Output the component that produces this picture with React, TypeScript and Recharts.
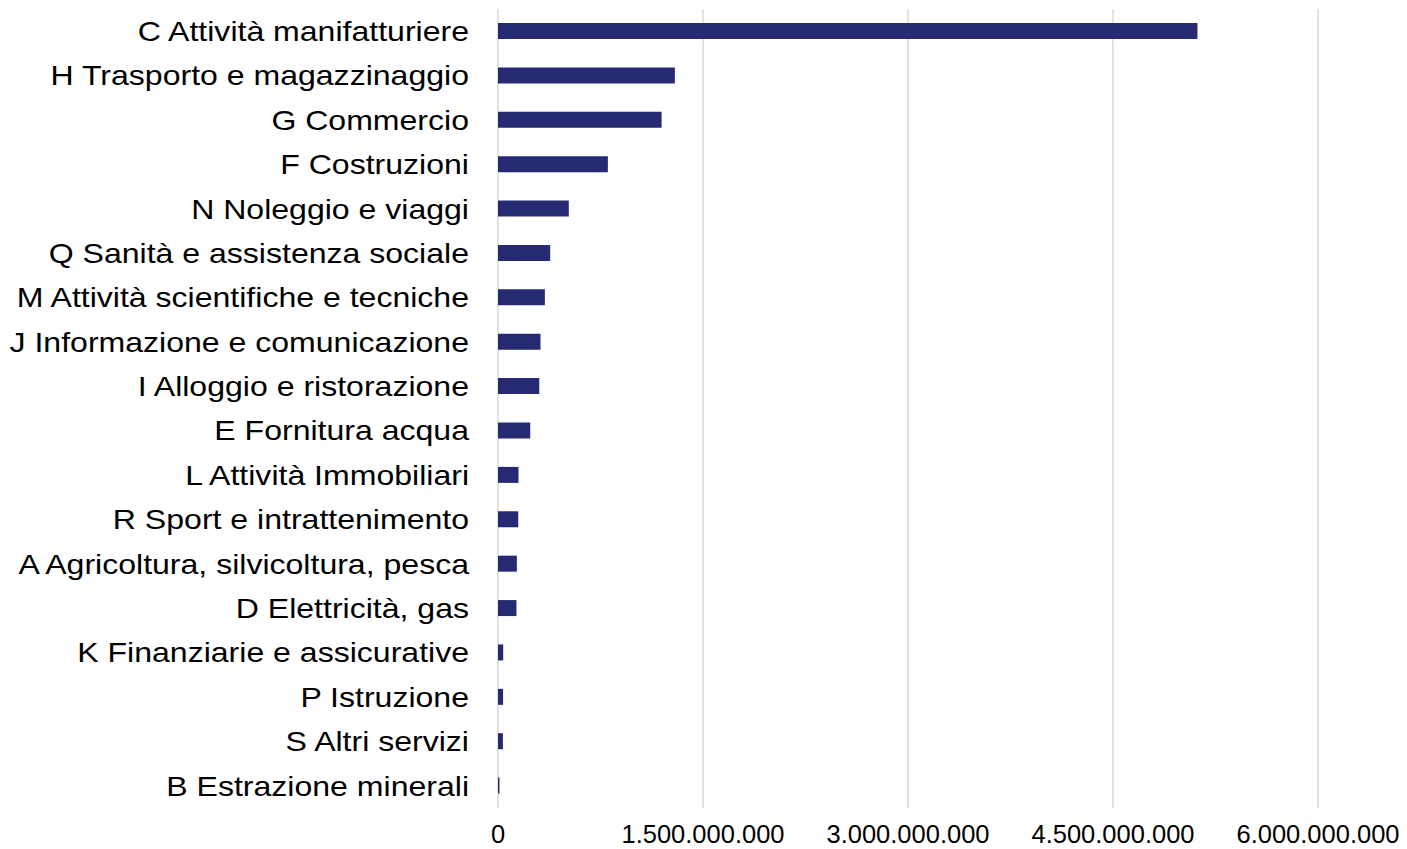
import { BarChart, Bar, XAxis, YAxis, CartesianGrid } from "recharts";

const SECTORS = [
  "C Attività manifatturiere",
  "H Trasporto e magazzinaggio",
  "G Commercio",
  "F Costruzioni",
  "N Noleggio e viaggi",
  "Q Sanità e assistenza sociale",
  "M Attività scientifiche e tecniche",
  "J Informazione e comunicazione",
  "I Alloggio e ristorazione",
  "E Fornitura acqua",
  "L Attività Immobiliari",
  "R Sport e intrattenimento",
  "A Agricoltura, silvicoltura, pesca",
  "D Elettricità, gas",
  "K Finanziarie e assicurative",
  "P Istruzione",
  "S Altri servizi",
  "B Estrazione minerali",
];

const VALUES = [
  5118000000, 1294000000, 1197000000, 804000000, 518000000, 382000000,
  343000000, 311000000, 302000000, 236000000, 150000000, 148000000,
  138000000, 135000000, 38000000, 37000000, 36000000, 11000000,
];

const X_TICKS = [0, 1500000000, 3000000000, 4500000000, 6000000000];

const data = SECTORS.map((name, i) => ({ name, value: VALUES[i] }));

const fmt = (v: number) => String(v).replace(/\B(?=(\d{3})+(?!\d))/g, ".");

// eslint-disable-next-line @typescript-eslint/no-explicit-any
function CategoryTick({ x, y, payload }: any) {
  return (
    <g transform={`translate(${x - 29},${y}) scale(1.145,1)`}>
      <text
        x={0}
        y={0}
        textAnchor="end"
        dominantBaseline="central"
        fontSize={28}
        fill="#000"
        fontFamily="'Liberation Sans', Arial, sans-serif"
      >
        {payload.value}
      </text>
    </g>
  );
}

// eslint-disable-next-line @typescript-eslint/no-explicit-any
function ValueTick({ x, y, payload }: any) {
  return (
    <text
      x={x}
      y={y + 35}
      textAnchor="middle"
      fontSize={25.5}
      fill="#000"
      fontFamily="'Liberation Sans', Arial, sans-serif"
    >
      {fmt(payload.value)}
    </text>
  );
}

export default function App() {
  return (
    <div style={{ position: "absolute", left: 0, top: 0, background: "#fff" }}>
      <BarChart
        width={1407}
        height={849}
        data={data}
        layout="vertical"
        margin={{ top: 9, right: 89, bottom: 0, left: 0 }}
        barSize={16}
      >
        <CartesianGrid horizontal={false} stroke="#d9d9d9" strokeWidth={1.5} />
        <XAxis
          type="number"
          domain={[0, 6000000000]}
          ticks={X_TICKS}
          axisLine={false}
          tickLine={false}
          tickSize={0}
          tickMargin={0}
          height={41}
          tick={ValueTick}
          interval={0}
        />
        <YAxis
          type="category"
          dataKey="name"
          width={498}
          axisLine={false}
          tickLine={false}
          tickSize={0}
          tickMargin={0}
          tick={CategoryTick}
          interval={0}
        />
        <Bar dataKey="value" fill="#262A73" isAnimationActive={false} />
      </BarChart>
    </div>
  );
}
